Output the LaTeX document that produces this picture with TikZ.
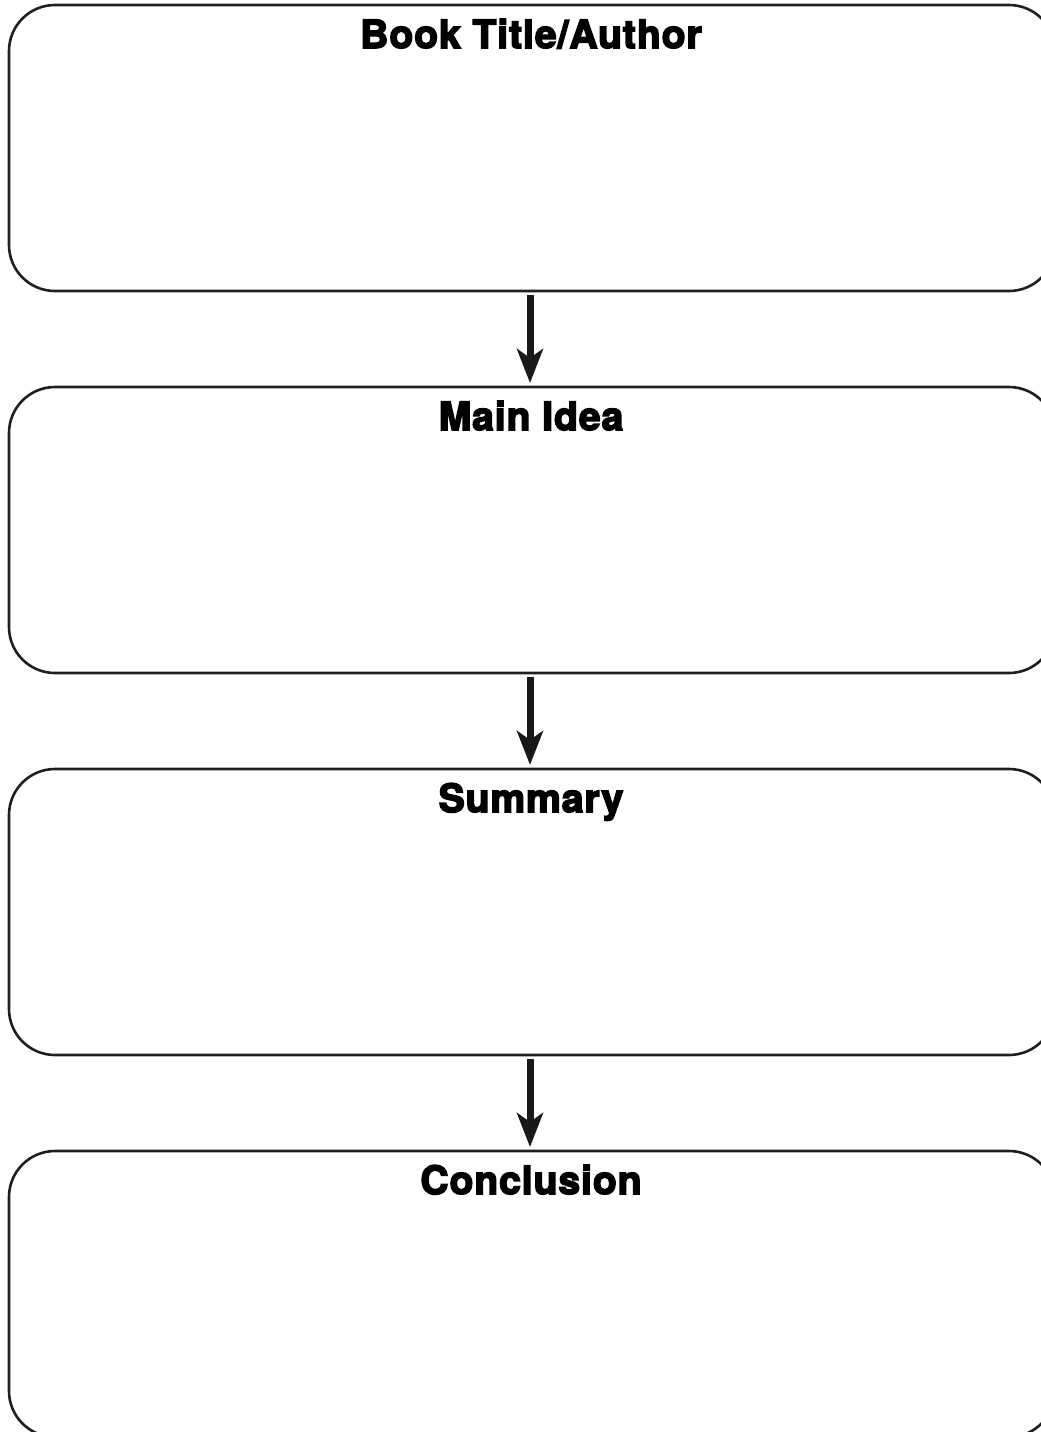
\documentclass[tikz,border=0pt]{standalone}
\usepackage{fontspec}
\newfontfamily\hfont{TeX Gyre Heros}[BoldFeatures={FakeBold=4,LetterSpace=2.5}]
\usetikzlibrary{arrows.meta}
\tikzset{
  box/.style={draw=black!88, line width=2.6pt, rounded corners=46pt, minimum width=1046pt, minimum height=286pt, outer sep=0pt, inner sep=0pt},
  ttl/.style={anchor=base, inner sep=0pt, font=\hfont\bfseries\fontsize{39}{44}\selectfont},
  flow/.style={draw=black!90, line width=7pt, -{Stealth[length=34pt, width=26pt, inset=9pt]}, shorten <=4pt, shorten >=4pt}
}
\begin{document}
\begin{tikzpicture}[x=1pt,y=-1pt]
\useasboundingbox (0,0) rectangle (1041,1432);
\clip (0,0) rectangle (1041,1432);
\node[box] (b1) at (532,148) {};
\node[box] (b2) at (532,530) {};
\node[box] (b3) at (532,912) {};
\node[box] (b4) at (532,1294) {};
\node[ttl] (t1) at (531,48) {Book Title/Author};
\node[ttl] (t2) at (531,430) {Main Idea};
\node[ttl] (t3) at (531,812) {Summary};
\node[ttl] (t4) at (531,1194) {Conclusion};
\draw[flow] ([xshift=-2pt]b1.south) -- ([xshift=-2pt]b2.north);
\draw[flow] ([xshift=-2pt]b2.south) -- ([xshift=-2pt]b3.north);
\draw[flow] ([xshift=-2pt]b3.south) -- ([xshift=-2pt]b4.north);
\end{tikzpicture}
\end{document}
